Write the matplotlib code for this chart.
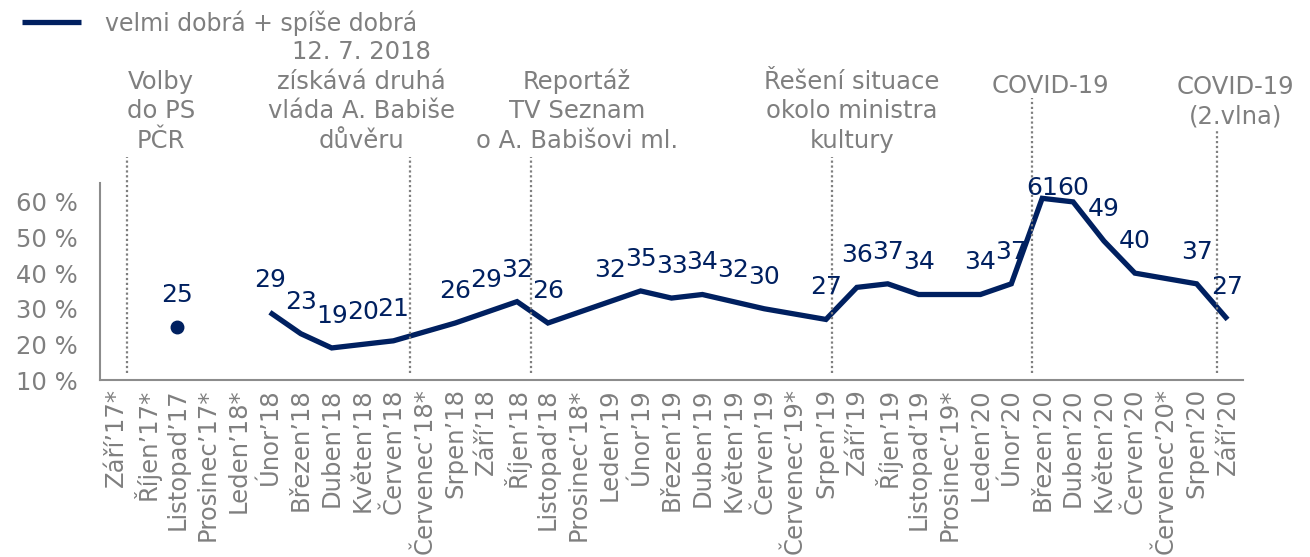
import matplotlib
matplotlib.use("Agg")
import matplotlib.pyplot as plt

NAVY = "#002060"
GREY = "#7f7f7f"

months = ["Září’17*", "Říjen’17*", "Listopad’17", "Prosinec’17*", "Leden’18*",
          "Únor’18", "Březen’18", "Duben’18", "Květen’18", "Červen’18",
          "Červenec’18*", "Srpen’18", "Září’18", "Říjen’18", "Listopad’18",
          "Prosinec’18*", "Leden’19", "Únor’19", "Březen’19", "Duben’19",
          "Květen’19", "Červen’19", "Červenec’19*", "Srpen’19", "Září’19",
          "Říjen’19", "Listopad’19", "Prosinec’19*", "Leden’20", "Únor’20",
          "Březen’20", "Duben’20", "Květen’20", "Červen’20", "Červenec’20*",
          "Srpen’20", "Září’20"]

# velmi dobrá + spíše dobrá (%), None = bez šetření
good = [None, None, None, None, None,
        29, 23, 19, 20, 21,
        None, 26, 29, 32, 26,
        None, 32, 35, 33, 34,
        32, 30, None, 27, 36,
        37, 34, None, 34, 37,
        61, 60, 49, 40, None,
        37, 27]
# samostatný bod po volbách
single = [None, None, 25] + [None] * 34

events = ["Volby\ndo PS\nPČR",
          "12. 7. 2018\nzískává druhá\nvláda A. Babiše\ndůvěru",
          "Reportáž\nTV Seznam\no A. Babišovi ml.",
          "Řešení situace\nokolo ministra\nkultury",
          "COVID-19",
          "COVID-19\n(2.vlna)"]
event_x = [0.37, 9.53, 13.45, 23.19, 29.66, 35.65]
event_text_x = [1.47, 7.95, 14.94, 23.84, 30.28, 36.26]
event_line_top = [72.6, 72.6, 72.6, 72.6, 89.2, 80.2]
event_text_y = [73.7, 73.7, 73.7, 73.7, 89.3, 80.6]

W, H = 1310, 557
fig = plt.figure(figsize=(W / 100, H / 100), dpi=100)
ax = fig.add_axes([100 / W, 1 - 380 / H, 1143 / W, 197 / H])

xs = [i for i, v in enumerate(good) if v is not None]
ys = [v for v in good if v is not None]
line, = ax.plot(xs, ys, color=NAVY, lw=3.8, solid_joinstyle="miter",
                solid_capstyle="butt", label="velmi dobrá + spíše dobrá")

px = [i for i, v in enumerate(single) if v is not None]
py = [v for v in single if v is not None]
ax.plot(px, py, "o", color=NAVY, ms=9, ls="none")

for i, v in list(zip(xs, ys)) + list(zip(px, py)):
    ax.text(i, min(v + 9, 64), str(v), ha="center", va="center",
            fontsize=18, color=NAVY)

for x, top, tx, ty, txt in zip(event_x, event_line_top, event_text_x,
                               event_text_y, events):
    ax.plot([x, x], [12, top], ls=(0, (1, 1.2)), color=GREY, lw=1.6,
            clip_on=False)
    ax.text(tx, ty, txt, ha="center", va="bottom", fontsize=17.5, color=GREY,
            linespacing=1.3, clip_on=False)

ax.set_xlim(-0.5, len(months) - 0.5)
ax.set_ylim(10, 65.3)
ax.set_xticks(range(len(months)))
ax.set_xticklabels(months, rotation=90, fontsize=17.5, color=GREY)
ax.set_yticks(range(10, 61, 10))
ax.set_yticklabels([f"{t} %" for t in range(10, 61, 10)], fontsize=17.5,
                   color=GREY)
ax.tick_params(axis="both", length=0)
ax.tick_params(axis="x", pad=6)
ax.tick_params(axis="y", pad=16)
for s in ["top", "right"]:
    ax.spines[s].set_visible(False)
for s in ["left", "bottom"]:
    ax.spines[s].set_color("#8c8c8c")
    ax.spines[s].set_linewidth(1.5)

fig.legend(handles=[line], loc="center left",
           bbox_to_anchor=(22 / W, 1 - 23 / H), frameon=False, fontsize=17,
           labelcolor=GREY, handlelength=2.5, handletextpad=1.0,
           borderpad=0, borderaxespad=0)

fig.savefig("out.png", dpi=100)
